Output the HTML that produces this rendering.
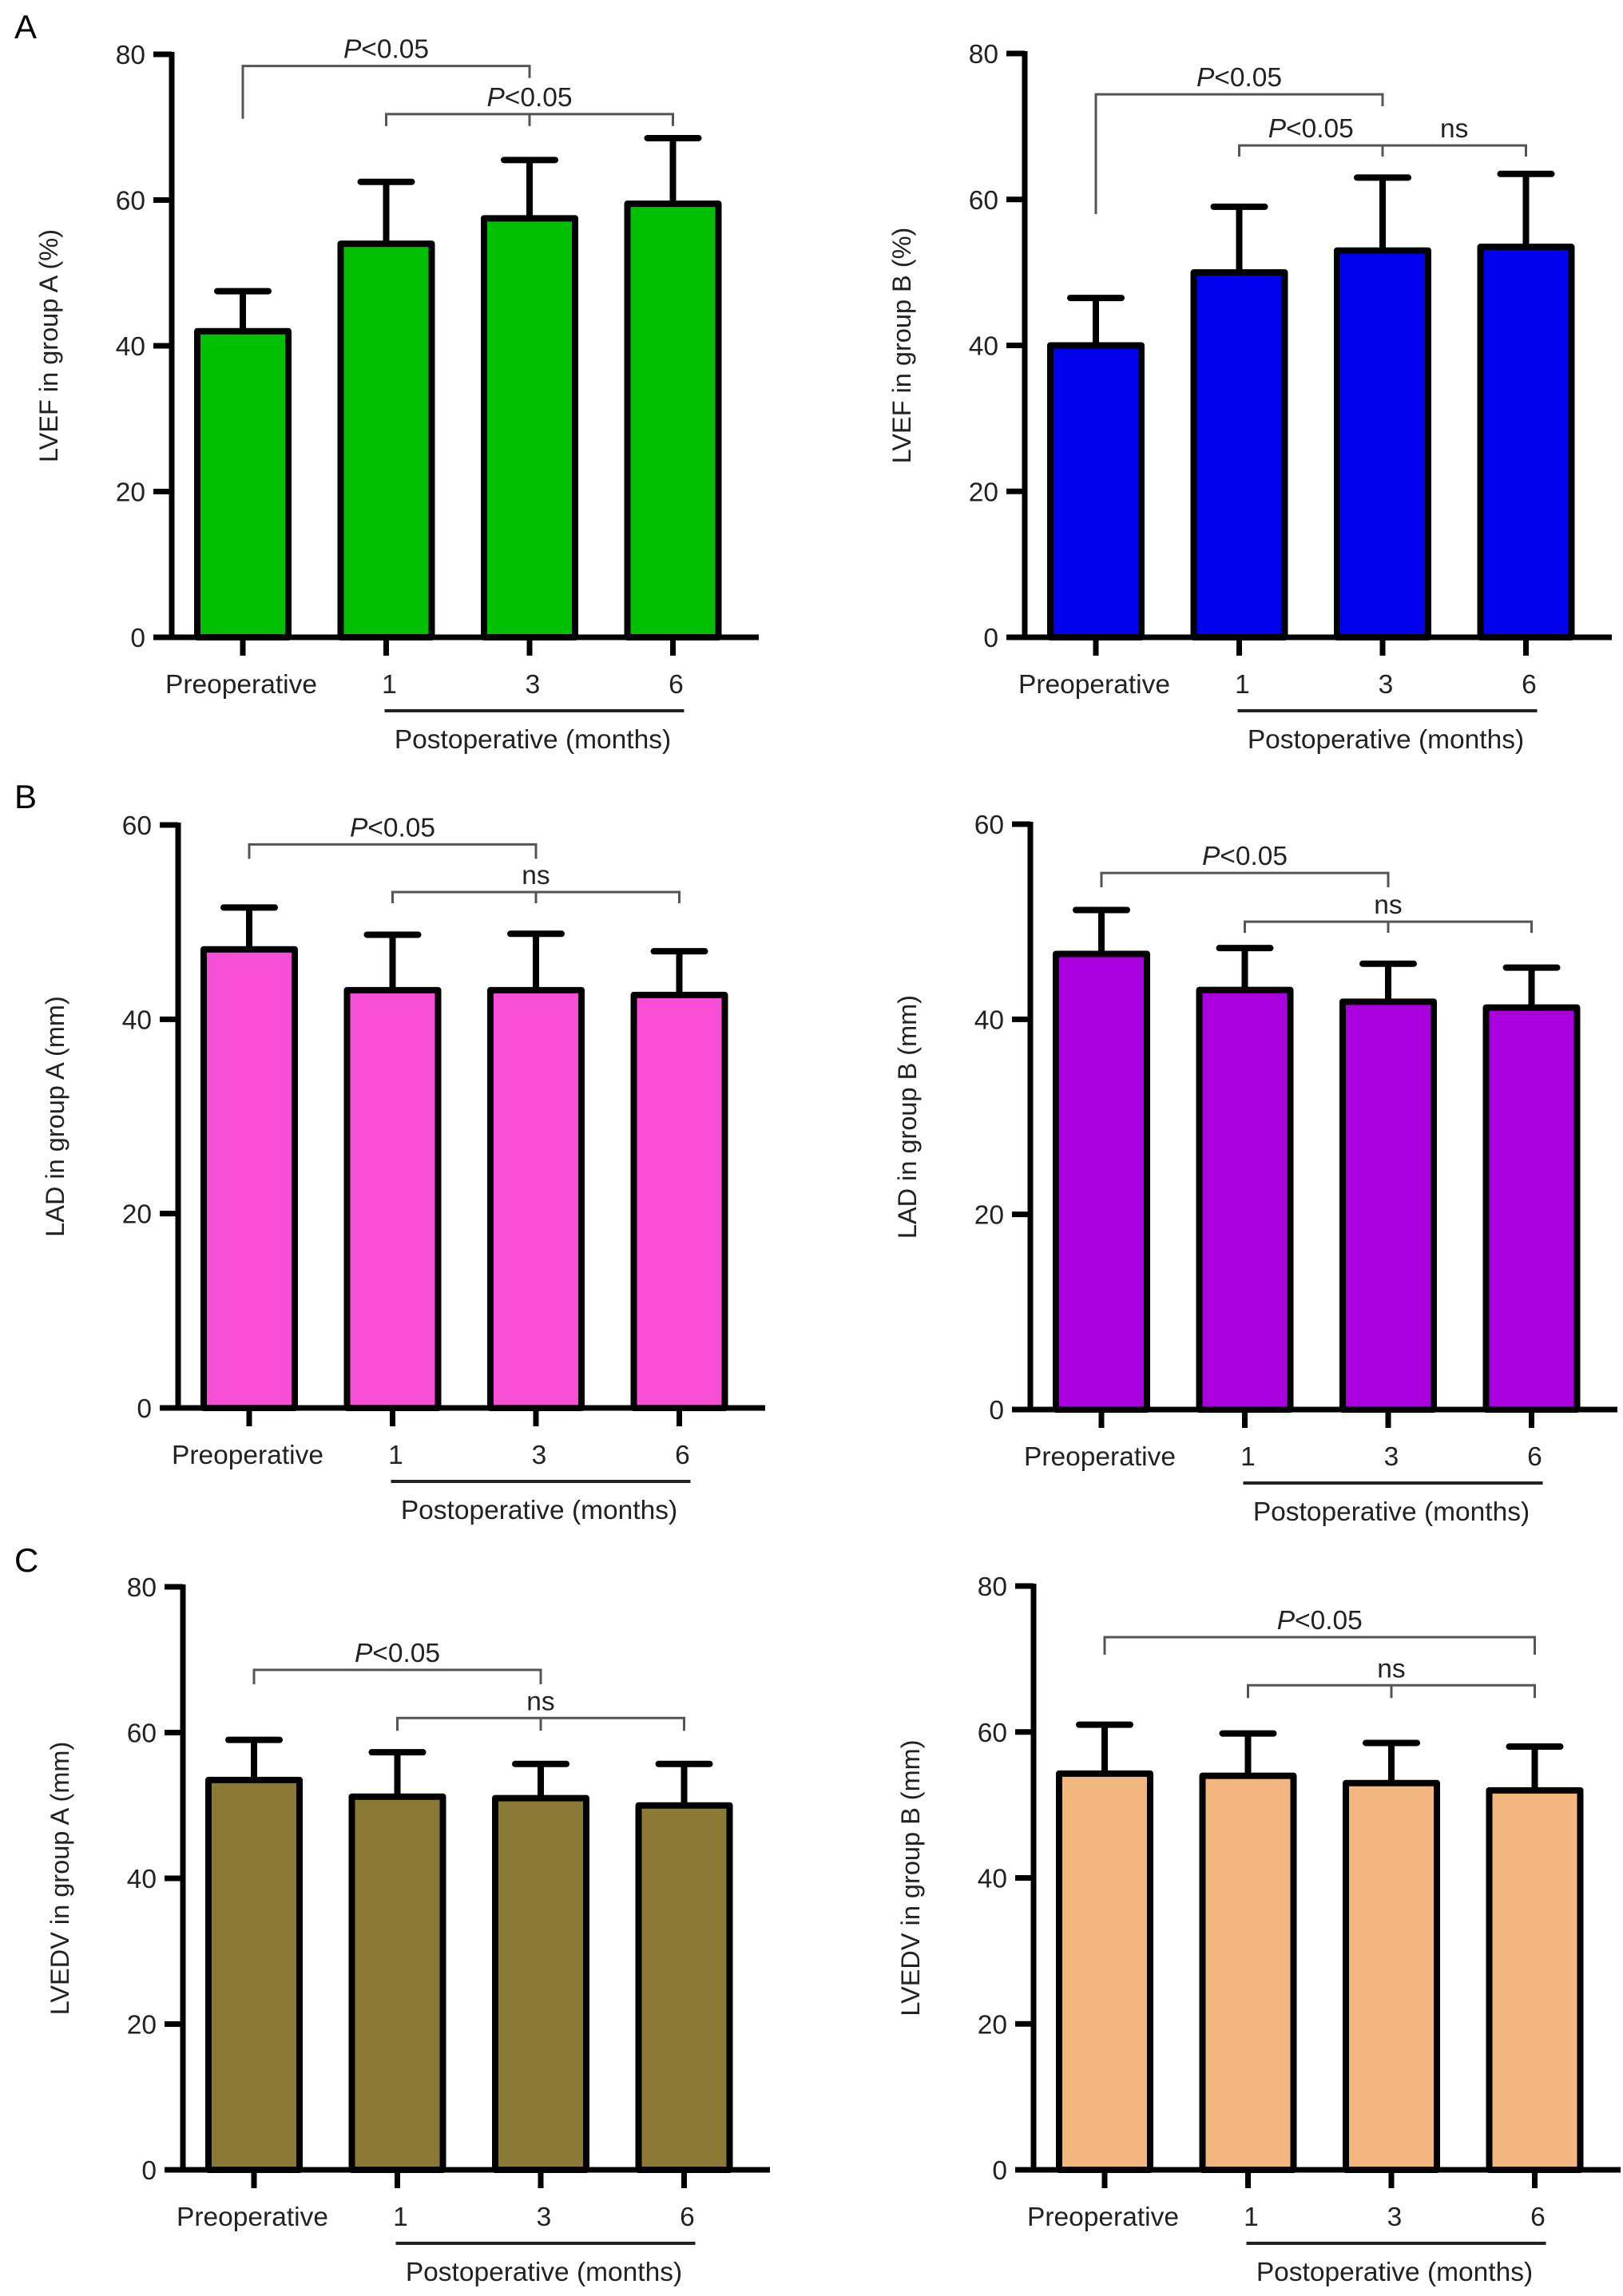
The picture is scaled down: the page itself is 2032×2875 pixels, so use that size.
<!DOCTYPE html>
<html><head><meta charset="utf-8">
<style>
html,body{margin:0;padding:0;background:#fff;}
svg{display:block;font-family:"Liberation Sans",Arial,sans-serif;}
</style></head>
<body>
<svg id="fig" width="2032" height="2875" viewBox="0 0 2032 2875" xmlns="http://www.w3.org/2000/svg">
<text x="18" y="48" font-size="42">A</text>
<text x="18" y="1012" font-size="42">B</text>
<text x="18" y="1968" font-size="42">C</text>
</svg>
<script>
const categories = ["Preoperative","1","3","6"];
const lvefAMeans = [42, 54, 57.5, 59.5];
const lvefAErr = [5.5, 8.5, 8, 9];
const lvefBMeans = [40, 50, 53, 53.5];
const lvefBErr = [6.5, 9, 10, 10];
const ladAMeans = [47.2, 43, 43, 42.5];
const ladAErr = [4.3, 5.7, 5.8, 4.5];
const ladBMeans = [46.7, 43, 41.8, 41.2];
const ladBErr = [4.5, 4.3, 3.9, 4.1];
const lvedvAMeans = [53.5, 51.2, 51, 50];
const lvedvAErr = [5.5, 6.1, 4.7, 5.7];
const lvedvBMeans = [54.3, 54, 53, 52];
const lvedvBErr = [6.7, 5.8, 5.5, 6];
const ticks80 = [0, 20, 40, 60, 80];
const ticks60 = [0, 20, 40, 60];

const NS = "http://www.w3.org/2000/svg";
const svg = document.getElementById('fig');
function mk(tag, attrs, parent, text) {
  const e = document.createElementNS(NS, tag);
  for (const k in attrs) e.setAttribute(k, attrs[k]);
  if (text !== undefined) e.textContent = text;
  (parent || svg).appendChild(e);
  return e;
}

const panels = [
  {id:'lvef-a', ax:215, y0:798, ytop:68, max:80, ticks:ticks80, means:lvefAMeans, errs:lvefAErr, color:'#00c000', title:'LVEF in group A (%)',
   br:[{a:0,b:2,v:78.4,l1:66,l2:15,label:'P<0.05',mode:'center'},{a:1,b:3,v:71.8,l1:15,l2:15,mid:true,label:'P<0.05',mode:'center'}]},
  {id:'lvef-b', ax:1283, y0:798, ytop:67, max:80, ticks:ticks80, means:lvefBMeans, errs:lvefBErr, color:'#0000ee', title:'LVEF in group B (%)',
   br:[{a:0,b:2,v:74.4,l1:150,l2:15,label:'P<0.05',mode:'center'},{a:1,b:3,v:67.4,l1:14,l2:14,mid:true,label:'',mode:'split',labels:['P<0.05','ns']}]},
  {id:'lad-a', ax:223, y0:1763, ytop:1033, max:60, ticks:ticks60, means:ladAMeans, errs:ladAErr, color:'#f64fd6', title:'LAD in group A (mm)',
   br:[{a:0,b:2,v:58,l1:18,l2:18,label:'P<0.05',mode:'center'},{a:1,b:3,v:53.1,l1:14,l2:14,mid:true,label:'ns',mode:'center'}]},
  {id:'lad-b', ax:1290, y0:1765, ytop:1032, max:60, ticks:ticks60, means:ladBMeans, errs:ladBErr, color:'#aa00e0', title:'LAD in group B (mm)',
   br:[{a:0,b:2,v:55,l1:18,l2:18,label:'P<0.05',mode:'center'},{a:1,b:3,v:50,l1:14,l2:14,mid:true,label:'ns',mode:'center'}]},
  {id:'lvedv-a', ax:229, y0:2717, ytop:1987, max:80, ticks:ticks80, means:lvedvAMeans, errs:lvedvAErr, color:'#8b7a35', title:'LVEDV in group A (mm)',
   br:[{a:0,b:2,v:68.6,l1:18,l2:18,label:'P<0.05',mode:'center'},{a:1,b:3,v:62,l1:16,l2:16,mid:true,label:'ns',mode:'center'}]},
  {id:'lvedv-b', ax:1294, y0:2717, ytop:1986, max:80, ticks:ticks80, means:lvedvBMeans, errs:lvedvBErr, color:'#f2b77e', title:'LVEDV in group B (mm)',
   br:[{a:0,b:3,v:73,l1:22,l2:22,label:'P<0.05',mode:'center'},{a:1,b:3,v:66.4,l1:16,l2:16,mid:true,label:'ns',mode:'center'}]}
];

function pLabel(g, x, y, txt, name) {
  const t = mk('text', {x:x, y:y, 'font-size':33.5, 'text-anchor':'middle', fill:'#222'}, g);
  
  
  if (txt.startsWith('P')) {
    mk('tspan', {'font-style':'italic'}, t, 'P');
    mk('tspan', {}, t, txt.slice(1));
  } else t.textContent = txt;
}

panels.forEach(p => {
  const g = mk('g', {});
  
  
  const yS = v => p.y0 - (v / p.max) * (p.y0 - p.ytop);
  const xS = i => p.ax + 89 + i * 179.5;
  const ya = mk('line', {x1:p.ax, y1:p.ytop - 3, x2:p.ax, y2:p.y0 + 3, stroke:'#000', 'stroke-width':7}, g);
  
  
  p.ticks.forEach(tv => {
    const y = yS(tv);
    const tk = mk('line', {x1:p.ax - 23, y1:y, x2:p.ax, y2:y, stroke:'#000', 'stroke-width':7}, g);
    
    
    const tl = mk('text', {x:p.ax - 33, y:y + 12, 'font-size':33.5, 'text-anchor':'end', fill:'#222'}, g, String(tv));
    
    
  });
  const xa = mk('line', {x1:p.ax - 23, y1:p.y0, x2:p.ax + 735, y2:p.y0, stroke:'#000', 'stroke-width':7}, g);
  
  
  const cy = (p.ytop + p.y0) / 2;
  const tx = p.ax - 143;
  const yt = mk('text', {x:tx, y:cy, 'font-size':32.5, 'text-anchor':'middle', fill:'#222', transform:`rotate(-90 ${tx} ${cy})`}, g, p.title);
  
  
  categories.forEach((c, i) => {
    const x = xS(i);
    const top = yS(p.means[i]);
    const cap = yS(p.means[i] + p.errs[i]);
    const eb = mk('line', {x1:x, y1:top, x2:x, y2:cap, stroke:'#000', 'stroke-width':8}, g);
    
    
    const ec = mk('line', {x1:x - 32, y1:cap, x2:x + 32, y2:cap, stroke:'#000', 'stroke-width':8, 'stroke-linecap':'round'}, g);
    
    
    const r = mk('rect', {x:x - 57, y:top, width:114, height:p.y0 - top, fill:p.color, stroke:'#000', 'stroke-width':8, 'stroke-linejoin':'round'}, g);
    
    
    const xt = mk('line', {x1:x, y1:p.y0, x2:x, y2:p.y0 + 23, stroke:'#000', 'stroke-width':7}, g);
    
    
    const xl = mk('text', {x:x + (i === 0 ? -2 : 4), y:p.y0 + 70, 'font-size':33.5, 'text-anchor':'middle', fill:'#222'}, g, c);
    
    
  });
  const ul = mk('line', {x1:xS(1) - 2, y1:p.y0 + 92, x2:xS(3) + 14, y2:p.y0 + 92, stroke:'#222', 'stroke-width':4}, g);
  
  
  const pl = mk('text', {x:(xS(1) + xS(3)) / 2 + 4, y:p.y0 + 139, 'font-size':33.5, 'text-anchor':'middle', fill:'#222'}, g, 'Postoperative (months)');
  
  
  p.br.forEach(b => {
    const y = yS(b.v);
    const xa1 = xS(b.a), xb1 = xS(b.b);
    const path = mk('path', {d:`M${xa1} ${y + b.l1} V${y} H${xb1} V${y + b.l2}` + (b.mid ? ` M${xS(2)} ${y} V${y + b.l1}` : ''), fill:'none', stroke:'#555', 'stroke-width':3}, g);
    
    
    if (b.mode === 'center') {
      pLabel(g, (xa1 + xb1) / 2, y - 10, b.label, 'significance-label');
    } else {
      pLabel(g, (xS(1) + xS(2)) / 2, y - 10, b.labels[0], 'significance-label');
      pLabel(g, (xS(2) + xS(3)) / 2, y - 10, b.labels[1], 'significance-label');
    }
  });
});
</script>
</body></html>
